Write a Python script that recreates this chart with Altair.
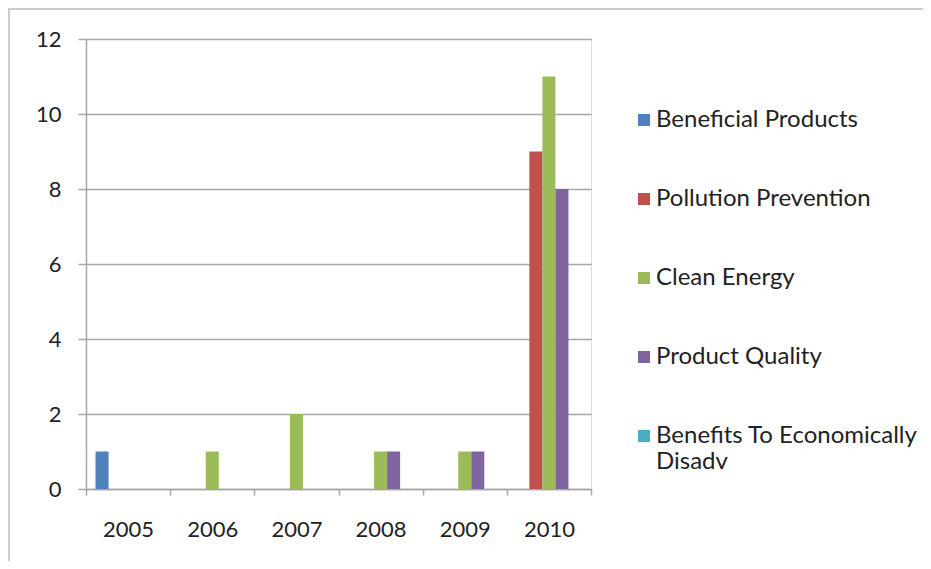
import altair as alt
import pandas as pd

years = ["2005", "2006", "2007", "2008", "2009", "2010"]
series = ["Beneficial Products", "Pollution Prevention", "Clean Energy",
          "Product Quality", "Benefits To Economically Disadv"]
colors = ["#4F81BD", "#C0504D", "#9BBB59", "#8064A2", "#4BACC6"]
beneficial = [1, 0, 0, 0, 0, 0]
pollution = [0, 0, 0, 0, 0, 9]
clean = [0, 1, 2, 1, 1, 11]
quality = [0, 0, 0, 1, 1, 8]
econ = [0, 0, 0, 0, 0, 0]
y_ticks = [0, 2, 4, 6, 8, 10, 12]

rows = []
for s, vals in zip(series, [beneficial, pollution, clean, quality, econ]):
    for yr, v in zip(years, vals):
        rows.append({"Year": yr, "Series": s, "Value": v})
df = pd.DataFrame(rows)

FONT = "Lato"
GRID = "#a6a6a6"

bars = alt.Chart(df).mark_bar().encode(
    x=alt.X("Year:N", sort=years, title=None,
            scale=alt.Scale(paddingInner=0, paddingOuter=0),
            axis=alt.Axis(labelAngle=0, tickBand="extent", domainColor=GRID,
                          domainWidth=1.5, tickColor=GRID, tickWidth=1.5,
                          tickSize=6, labelPadding=24, labelFontSize=22,
                          labelColor="#222222", labelFont=FONT)),
    xOffset=alt.XOffset("Series:N", sort=series,
                        scale=alt.Scale(paddingInner=0, paddingOuter=0.73)),
    y=alt.Y("Value:Q", title=None,
            scale=alt.Scale(domain=[0, 12], nice=False),
            axis=alt.Axis(values=y_ticks, grid=True, gridColor=GRID,
                          gridWidth=1.5, domainColor=GRID, domainWidth=1.5,
                          tickColor=GRID, tickWidth=1.5, tickSize=8,
                          labelPadding=17, labelFontSize=22,
                          labelColor="#222222", labelFont=FONT)),
    color=alt.Color("Series:N", sort=series,
                    scale=alt.Scale(domain=series, range=colors),
                    legend=alt.Legend(
                        title=None, orient="none", legendX=546, legendY=69,
                        symbolType="square", symbolSize=144,
                        symbolStrokeWidth=0, labelFontSize=24, labelFont=FONT,
                        labelColor="#222222", rowPadding=55, labelOffset=0,
                        labelLimit=400, labelBaseline="middle",
                        labelExpr="datum.label == 'Benefits To Economically Disadv' ? ['Benefits To Economically', 'Disadv'] : datum.label")),
)

frame_df = pd.DataFrame({"k": [0]})
left_line = alt.Chart(frame_df).mark_rule(color="#cccccc", strokeWidth=2).encode(
    x=alt.value(-77), y=alt.value(-30), y2=alt.value(530))
top_line = alt.Chart(frame_df).mark_rule(color="#cccccc", strokeWidth=2).encode(
    x=alt.value(-78), x2=alt.value(840), y=alt.value(-30))

chart = alt.layer(bars, left_line, top_line).properties(
    width=505, height=450,
    autosize=alt.AutoSizeParams(type="none"),
    padding={"left": 78, "top": 31, "right": 332, "bottom": 72},
).configure_view(stroke=None).configure(font=FONT)

chart.save("out.html", embed_options={"renderer": "svg", "actions": False})
